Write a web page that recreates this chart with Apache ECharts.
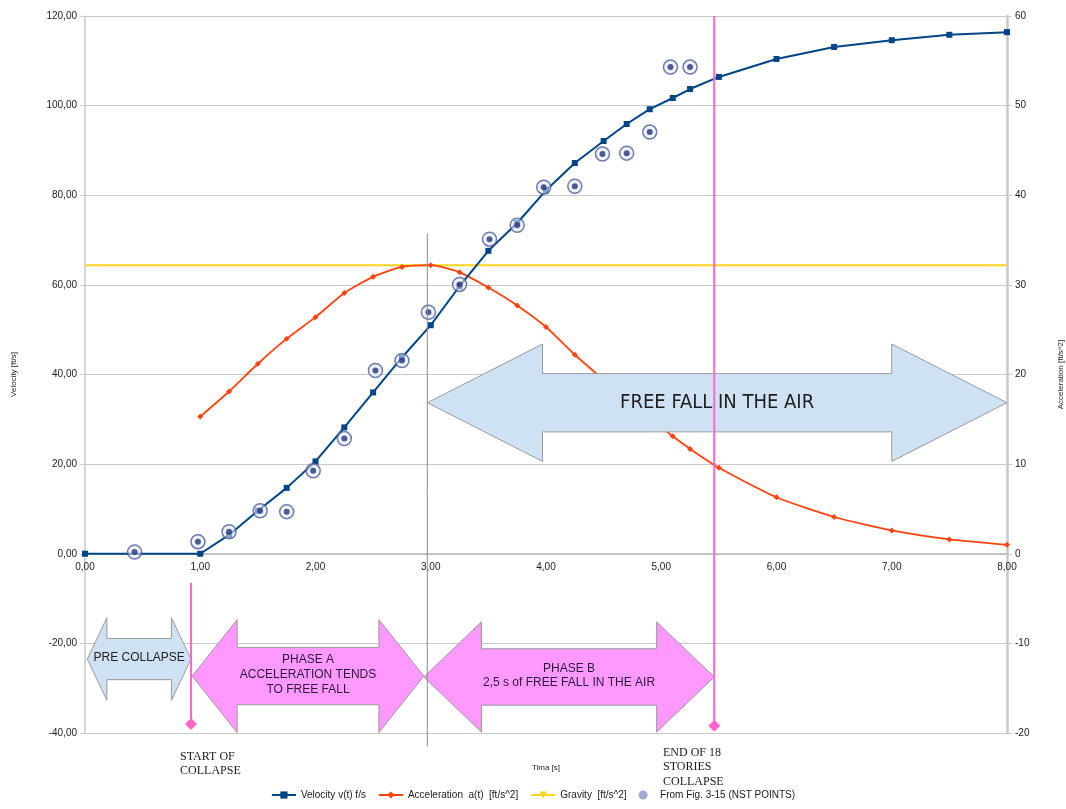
<!DOCTYPE html>
<html>
<head>
<meta charset="utf-8">
<title>Velocity and acceleration of the collapse</title>
<script src="https://cdn.jsdelivr.net/npm/echarts@6/dist/echarts.min.js"></script>
<style>
  html, body { margin: 0; padding: 0; background: #ffffff; }
  #chart { width: 1066px; height: 809px; }
</style>
</head>
<body>
<div id="chart"></div>
<script>
// Model velocity v(t) in ft/s
const velocityTime = [0, 1.0, 1.25, 1.5, 1.75, 2.0, 2.25, 2.5, 2.75, 3.0, 3.25, 3.5, 3.75, 4.0, 4.25, 4.5, 4.7, 4.9, 5.1, 5.25, 5.5, 6.0, 6.5, 7.0, 7.5, 8.0];
const velocity     = [0, 0.0, 4.2, 9.6, 14.7, 20.6, 28.2, 36.0, 43.8, 51.0, 59.7, 67.6, 73.8, 81.1, 87.2, 92.1, 95.9, 99.2, 101.7, 103.7, 106.4, 110.4, 113.1, 114.6, 115.8, 116.4];

// Model acceleration a(t) in ft/s^2
const accelTime    = [1.0, 1.25, 1.5, 1.75, 2.0, 2.25, 2.5, 2.75, 3.0, 3.25, 3.5, 3.75, 4.0, 4.25, 4.5, 4.7, 4.9, 5.1, 5.25, 5.5, 6.0, 6.5, 7.0, 7.5, 8.0];
const acceleration = [15.3, 18.1, 21.2, 24.0, 26.4, 29.1, 30.9, 32.0, 32.2, 31.4, 29.7, 27.7, 25.3, 22.2, 19.4, 17.2, 15.1, 13.1, 11.7, 9.6, 6.3, 4.1, 2.6, 1.6, 1.0];

// Gravity reference g in ft/s^2
const gravityTime  = [0, 8];
const gravityValue = 32.2;

// Measured points (Fig. 3-15)
const nistTime     = [0.43, 0.98, 1.25, 1.52, 1.75, 1.98, 2.25, 2.52, 2.75, 2.98, 3.25, 3.51, 3.75, 3.98, 4.25, 4.49, 4.70, 4.90, 5.08, 5.25];
const nistVelocity = [0.4, 2.7, 4.9, 9.6, 9.4, 18.5, 25.7, 40.9, 43.1, 53.9, 60.1, 70.2, 73.3, 81.8, 82.0, 89.2, 89.4, 94.1, 108.6, 108.6];

// Axis ticks
const xTicks = { min: 0, max: 8, step: 1 };
const velocityTicks = { min: -40, max: 120, step: 20 };
const accelTicks = { min: -20, max: 60, step: 10 };

const names = {
  velocity: 'Velocity v(t) f/s',
  accel: 'Acceleration  a(t)  [ft/s^2]',
  gravity: 'Gravity  [ft/s^2]',
  nist: 'From Fig. 3-15 (NST POINTS)'
};

const zip = (xs, ys) => xs.map((x, i) => [x, ys[i]]);
const comma = (v) => v.toFixed(2).replace('.', ',');

const SANS = '"Liberation Sans", Arial, sans-serif';
const SERIF = '"Liberation Serif", "Times New Roman", serif';
const GRID_GRAY = '#c8c8c8';
const LABEL = '#1a1a1a';

const chart = echarts.init(document.getElementById('chart'), null, { renderer: 'canvas' });

const option = {
  animation: false,
  backgroundColor: '#ffffff',
  textStyle: { fontFamily: SANS },
  grid: { left: 85, right: 59, top: 16, bottom: 76, containLabel: false, outerBoundsMode: 'none' },
  legend: {
    bottom: 4,
    left: 'center',
    itemWidth: 24,
    itemHeight: 9,
    itemGap: 12,
    textStyle: { fontSize: 10, color: LABEL, fontFamily: SANS },
    data: [
      { name: names.velocity },
      { name: names.accel },
      { name: names.gravity },
      { name: names.nist, icon: 'circle', itemStyle: { color: '#8a96c4' } }
    ]
  },
  xAxis: {
    type: 'value',
    position: 'bottom',
    min: xTicks.min, max: xTicks.max, interval: xTicks.step,
    name: 'Tima [s]',
    nameLocation: 'middle',
    nameGap: 210,
    nameMoveOverlap: false,
    nameTextStyle: { fontSize: 8, color: LABEL },
    axisLine: { onZero: false, lineStyle: { color: '#b8b8b8', width: 1.5 } },
    axisTick: { show: false },
    axisLabel: { fontSize: 10, color: LABEL, margin: 8, formatter: comma },
    splitLine: { show: false }
  },
  yAxis: [
    {
      type: 'value',
      position: 'left',
      min: velocityTicks.min, max: velocityTicks.max, interval: velocityTicks.step,
      name: 'Velocity [ft/s]',
      nameLocation: 'middle',
      nameRotate: 90,
      nameGap: 67,
      nameMoveOverlap: false,
      nameTextStyle: { fontSize: 8, color: LABEL },
      axisLine: { show: true, onZero: false, lineStyle: { color: GRID_GRAY, width: 1.5 } },
      axisTick: { show: true, length: 5, lineStyle: { color: GRID_GRAY } },
      axisLabel: { fontSize: 10, color: LABEL, margin: 8, formatter: comma },
      splitLine: { show: true, lineStyle: { color: GRID_GRAY, width: 1.2 } }
    },
    {
      type: 'value',
      position: 'right',
      min: accelTicks.min, max: accelTicks.max, interval: accelTicks.step,
      name: 'Acceleration [ft/s^2]',
      nameLocation: 'middle',
      nameRotate: 90,
      nameGap: 50,
      nameMoveOverlap: false,
      nameTextStyle: { fontSize: 8, color: LABEL },
      axisLine: { show: true, onZero: false, lineStyle: { color: GRID_GRAY, width: 2.5 } },
      axisTick: { show: true, length: 5, lineStyle: { color: GRID_GRAY } },
      axisLabel: { fontSize: 10, color: LABEL, margin: 8 },
      splitLine: { show: false }
    }
  ],
  series: [
    {
      name: names.gravity,
      type: 'line',
      yAxisIndex: 1,
      data: gravityTime.map((t) => [t, gravityValue]),
      symbol: 'path://M0,0 L10,0 L5,9 Z',
      showSymbol: false,
      lineStyle: { color: '#ffd320', width: 2 },
      itemStyle: { color: '#ffd320' },
      z: 2
    },
    {
      name: names.accel,
      type: 'line',
      yAxisIndex: 1,
      data: zip(accelTime, acceleration),
      symbol: 'diamond',
      symbolSize: 6,
      smooth: 0.2,
      lineStyle: { color: '#ff420e', width: 1.8 },
      itemStyle: { color: '#ff420e' },
      z: 3
    },
    {
      name: names.velocity,
      type: 'line',
      yAxisIndex: 0,
      data: zip(velocityTime, velocity),
      symbol: 'rect',
      symbolSize: 6,
      lineStyle: { color: '#004586', width: 2 },
      itemStyle: { color: '#004586' },
      z: 4
    },
    {
      // outer ring around each measured point
      name: 'nist-ring',
      type: 'scatter',
      yAxisIndex: 0,
      data: zip(nistTime, nistVelocity),
      symbol: 'circle',
      symbolSize: 14,
      itemStyle: { color: 'rgba(225,232,248,0.7)', borderColor: '#4b5b97', borderWidth: 1.5 },
      z: 5
    },
    {
      name: names.nist,
      type: 'scatter',
      yAxisIndex: 0,
      data: zip(nistTime, nistVelocity),
      symbol: 'circle',
      symbolSize: 6,
      itemStyle: { color: '#24357a' },
      z: 6
    }
  ]
};

chart.setOption(option);

const px = (x, y) => chart.convertToPixel({ gridIndex: 0 }, [x, y]);

// Lift the time axis up to the zero-velocity line
const zeroY = px(0, 0)[1];
const bottomY = px(0, velocityTicks.min)[1];
chart.setOption({ xAxis: { offset: zeroY - bottomY } });

// ---- Annotations: phase arrows, event markers and captions ----

// Double-headed arrow outline in data units (seconds, ft/s)
function doubleArrow(a) {
  const pts = [
    [a.x0, a.yc],
    [a.x0 + a.head, a.yc + a.headHalf],
    [a.x0 + a.head, a.yc + a.shaftHalf],
    [a.x1 - a.head, a.yc + a.shaftHalf],
    [a.x1 - a.head, a.yc + a.headHalf],
    [a.x1, a.yc],
    [a.x1 - a.head, a.yc - a.headHalf],
    [a.x1 - a.head, a.yc - a.shaftHalf],
    [a.x0 + a.head, a.yc - a.shaftHalf],
    [a.x0 + a.head, a.yc - a.headHalf]
  ].map((p) => px(p[0], p[1]));
  return {
    type: 'polygon',
    shape: { points: pts },
    style: { fill: a.fill, stroke: '#9a9a9a', lineWidth: 1 },
    z: 50
  };
}

function arrowText(a, text, font, lineHeight, color) {
  const c = px((a.x0 + a.x1) / 2, a.yc);
  return {
    type: 'text',
    x: c[0] + (a.dx || 0),
    y: c[1] + (a.dy || 0),
    style: {
      text: text,
      font: font,
      fill: color || '#222222',
      align: 'center',
      verticalAlign: 'middle',
      lineHeight: lineHeight
    },
    z: 60
  };
}

const BLUE_FILL = '#cfe2f3';
const PINK_FILL = '#ff99ff';
const MARKER = '#ff66cc';

const preCollapse = { x0: 0.02, x1: 0.92, yc: -23.5, headHalf: 9.2, shaftHalf: 4.6, head: 0.17, fill: BLUE_FILL, dy: -1 };
const phaseA = { x0: 0.93, x1: 2.94, yc: -27.3, headHalf: 12.6, shaftHalf: 6.4, head: 0.39, fill: PINK_FILL, dy: -1 };
const phaseB = { x0: 2.94, x1: 5.46, yc: -27.5, headHalf: 12.3, shaftHalf: 6.3, head: 0.5, fill: PINK_FILL, dy: -1 };
const freeFall = { x0: 2.97, x1: 8.0, yc: 33.7, headHalf: 13.1, shaftHalf: 6.5, head: 1.0, fill: BLUE_FILL, dx: 0 };

function vLine(x, yTop, yBottom, color, width) {
  const a = px(x, yTop), b = px(x, yBottom);
  return {
    type: 'line',
    shape: { x1: a[0], y1: a[1], x2: b[0], y2: b[1] },
    style: { stroke: color, lineWidth: width },
    z: 70
  };
}

function diamond(x, y, color) {
  const c = px(x, y);
  const r = 6;
  return {
    type: 'polygon',
    shape: { points: [[c[0], c[1] - r], [c[0] + r, c[1]], [c[0], c[1] + r], [c[0] - r, c[1]]] },
    style: { fill: color },
    z: 71
  };
}

function caption(x, y, text) {
  const p = px(x, y);
  return {
    type: 'text',
    x: p[0],
    y: p[1],
    style: {
      text: text,
      font: '12px ' + SERIF,
      fill: '#1a1a1a',
      align: 'left',
      verticalAlign: 'top',
      lineHeight: 14.5
    },
    z: 60
  };
}

const startCollapse = 0.92;
const endCollapse = 5.46;
const phaseSplit = 2.97;

const elements = [
  doubleArrow(preCollapse),
  doubleArrow(phaseA),
  doubleArrow(phaseB),
  doubleArrow(freeFall),
  arrowText(preCollapse, 'PRE COLLAPSE', '12px ' + SANS, 14),
  arrowText(phaseA, 'PHASE A\nACCELERATION TENDS\nTO FREE FALL', '12px ' + SANS, 15, '#2a1838'),
  arrowText(phaseB, 'PHASE B\n2,5 s of FREE FALL IN THE AIR', '12px ' + SANS, 14, '#2a1838'),
  arrowText(freeFall, 'FREE FALL IN THE AIR', '20px "Liberation Sans Narrow", "DejaVu Sans Condensed", sans-serif', 22, '#1e1e1e'),
  vLine(phaseSplit, 71.5, -43.0, '#8c8c8c', 1),
  vLine(startCollapse, -6.5, -38.0, MARKER, 2),
  vLine(endCollapse, 120, -38.4, MARKER, 2),
  diamond(startCollapse, -38.0, MARKER),
  diamond(endCollapse, -38.4, MARKER),
  caption(0.825, -43.6, 'START OF\nCOLLAPSE'),
  caption(5.015, -42.7, 'END OF 18\nSTORIES\nCOLLAPSE')
];

chart.setOption({ graphic: { elements: elements } });
</script>
</body>
</html>
